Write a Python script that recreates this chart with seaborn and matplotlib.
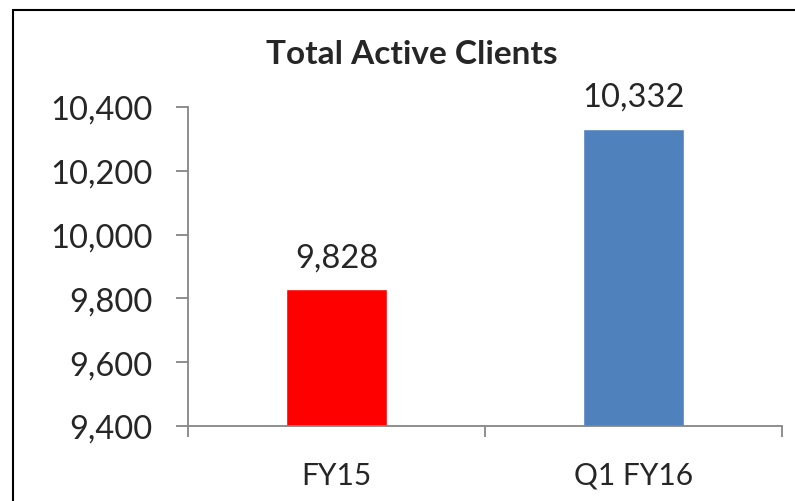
import matplotlib
matplotlib.use('Agg')
import matplotlib.pyplot as plt
import matplotlib.ticker as ticker
from matplotlib.patches import Rectangle
import pandas as pd
import seaborn as sns

categories = ['FY15', 'Q1 FY16']
clients = [9828, 10332]
bar_colors = ['#FF0000', '#4F81BD']
y_ticks = [9400, 9600, 9800, 10000, 10200, 10400]

sns.set_style('white')
plt.rcParams['font.family'] = ['Lato', 'DejaVu Sans']

df = pd.DataFrame({'period': categories, 'clients': clients})

fig = plt.figure(figsize=(7.95, 5.02), dpi=100)
ax = fig.add_axes([188 / 795, 1 - 427 / 502, 594 / 795, 319 / 502])

sns.barplot(data=df, x='period', y='clients', hue='period', palette=bar_colors,
            width=0.337, legend=False, ax=ax, saturation=1)

ax.set_ylim(9400, 10400)
ax.set_xlim(-0.5, 1.5)
ax.set_yticks(y_ticks)
ax.yaxis.set_major_formatter(ticker.FuncFormatter(lambda v, p: f'{int(v):,}'))

# category boundaries as major ticks, labels on minor ticks at bar centres
ax.xaxis.set_major_locator(ticker.FixedLocator([-0.5, 0.5, 1.5]))
ax.xaxis.set_major_formatter(ticker.NullFormatter())
ax.xaxis.set_minor_locator(ticker.FixedLocator([0, 1]))
ax.xaxis.set_minor_formatter(ticker.FixedFormatter(categories))

grey = '#868686'
for side in ['top', 'right']:
    ax.spines[side].set_visible(False)
for side in ['left', 'bottom']:
    ax.spines[side].set_color(grey)
    ax.spines[side].set_linewidth(1.3)

ax.tick_params(axis='y', which='major', direction='out', length=8.6, width=1.3,
               color=grey, labelsize=23.5, pad=17, left=True)
ax.tick_params(axis='x', which='major', direction='out', length=8, width=1.3,
               color=grey, bottom=True)
ax.tick_params(axis='x', which='minor', length=0, labelsize=21.5, pad=25)
ax.set_xlabel('')
ax.set_ylabel('')

for i, v in enumerate(clients):
    ax.annotate(f'{v:,}', (i, v), xytext=(0, 12), textcoords='offset points',
                ha='center', va='bottom', fontsize=23.5)

fig.text(412 / 795, 1 - 55 / 502, 'Total Active Clients', ha='center', va='center',
         fontsize=24, fontweight='bold')

fig.patches.append(Rectangle((13 / 795, -0.05), 1.1, 1 - 11 / 502 + 0.05,
                             transform=fig.transFigure, fill=False,
                             edgecolor='black', linewidth=1.5))

fig.savefig('out.png', dpi=100)
